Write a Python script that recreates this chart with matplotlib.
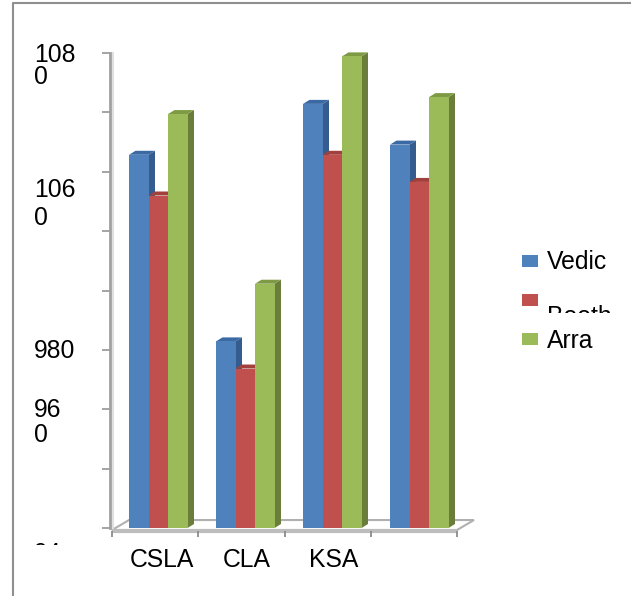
import matplotlib
matplotlib.use('Agg')
import matplotlib.pyplot as plt
from matplotlib.patches import Polygon, Rectangle
from matplotlib.transforms import Affine2D, Bbox

categories = ['CSLA', 'CLA', 'KSA', '']
series_names = ['Vedic', 'Booth', 'Arra']
vedic = [1050, 995, 1065, 1053]
booth = [1038, 987, 1050, 1042]
arra = [1062, 1012, 1079, 1067]
y_ticks = [940 + 17.5 * i for i in range(9)]

front_colors = ['#4f81bd', '#c0504d', '#9bbb59']
side_colors = ['#345c8e', '#8c3a38', '#6a7d3a']
top_colors = ['#3b69a4', '#a2403c', '#7f9a45']

W, H = 631, 596
plt.rcParams['font.family'] = ['Liberation Sans', 'DejaVu Sans']
fig = plt.figure(figsize=(W / 100, H / 100), dpi=100)

# pixel coordinates, origin top left, for the labels and legend
px = Affine2D().scale(1, -1).translate(0, H)

ax = fig.add_axes([112 / W, 1 - 528 / H, 345 / W, 475 / H])
ax.set_xlim(0, 4)
ax.set_ylim(940, 1080)
ax.patch.set_visible(False)
for side in ['top', 'right', 'bottom']:
    ax.spines[side].set_visible(False)
ax.spines['left'].set_position(('outward', 1.5))
ax.spines['left'].set_color('#a0a0a0')
ax.spines['left'].set_linewidth(2)
ax.set_yticks(y_ticks)
ax.set_yticklabels([])
ax.set_xticks([0, 1, 2, 3, 4])
ax.set_xticklabels([])
ax.tick_params(axis='y', length=5.5, width=1.1, color='#8c8c8c')
ax.tick_params(axis='x', length=4, width=1.3, color='#8c8c8c', pad=0)
ax.xaxis.set_ticks_position('bottom')
ax.spines['bottom'].set_position(('outward', 2))

# floor of the 3d box
floor_dx = 17 / 86.25
floor_dy = 10 / 3.393
floor = Polygon([(0, 939.4), (4, 939.4), (4 + floor_dx, 939.4 + floor_dy), (floor_dx, 939.4 + floor_dy)],
                closed=True, facecolor='white', edgecolor='#b0b0b0', linewidth=1.5, clip_on=False, zorder=1)
ax.add_patch(floor)
ax.plot([0, 4], [939.1, 939.1], color='#bdbdbd', linewidth=3, clip_on=False, zorder=1.5, solid_capstyle='butt')
# soft shading beside the value axis
ax.plot([0.012, 0.012], [940, 1080], color='#e0e0e0', linewidth=1.5, clip_on=False, zorder=1)

# bars with a side and top face for the 3d look
bar_w = 19.5 / 86.25
pitch = 87 / 86.25
start = 17 / 86.25
dx = 6.5 / 86.25
dy = 4 / 3.393
z = 2
for i in range(len(categories)):
    for j, values in enumerate([vedic, booth, arra]):
        left = i * pitch + start + j * bar_w
        right = left + bar_w
        v = values[i]
        base = 940
        ax.add_patch(Polygon([(right, base), (right + dx, base + dy), (right + dx, v + dy), (right, v)],
                             closed=True, facecolor=side_colors[j], edgecolor='none', zorder=z, clip_on=False))
        ax.add_patch(Polygon([(left, v), (left + dx, v + dy), (right + dx, v + dy), (right, v)],
                             closed=True, facecolor=top_colors[j], edgecolor='none', zorder=z, clip_on=False))
        ax.bar(left, v - base, bottom=base, width=bar_w, align='edge', color=front_colors[j], zorder=z + 0.5)
        z += 1

text_size = 17.8
# value labels wrap inside a narrow box in the chart
value_labels = [('108', 55), ('0', 77), ('106', 190), ('0', 218), ('980', 351), ('96', 410), ('0', 435)]
for label, y in value_labels:
    fig.text(34, y, label, transform=px, fontsize=text_size, color='black', ha='left', va='center')

# the last value label is cut off by its box
cut = fig.text(34, 542, '94', transform=px, fontsize=text_size, color='black', ha='left', va='top')
cut.set_clip_box(Bbox([[0, H - 545], [W, H]]))
cut.set_clip_on(True)

label_centers = [162, 247, 334]
for name, x in zip(categories[:3], label_centers):
    fig.text(x, 560, name, transform=px, fontsize=text_size, color='black', ha='center', va='center')

# legend
swatch_tops = [255, 294, 333]
for j, name in enumerate(series_names):
    fig.add_artist(Rectangle((522, swatch_tops[j]), 16, 12, transform=px, facecolor=front_colors[j], edgecolor='none'))
fig.text(547, 262, series_names[0], transform=px, fontsize=text_size, color='black', ha='left', va='center')
fig.text(547, 341, series_names[2], transform=px, fontsize=text_size, color='black', ha='left', va='center')
booth_label = fig.text(547, 305, series_names[1], transform=px, fontsize=text_size, color='black', ha='left', va='top')
booth_label.set_clip_box(Bbox([[0, H - 313], [W, H]]))
booth_label.set_clip_on(True)

# outer frame, open at the right and bottom edges
fig.add_artist(plt.Line2D([12.5, 12.5, W], [H, 3, 3], transform=px, color='#8f8f8f', linewidth=1.5))

fig.savefig('out.png', dpi=100)
